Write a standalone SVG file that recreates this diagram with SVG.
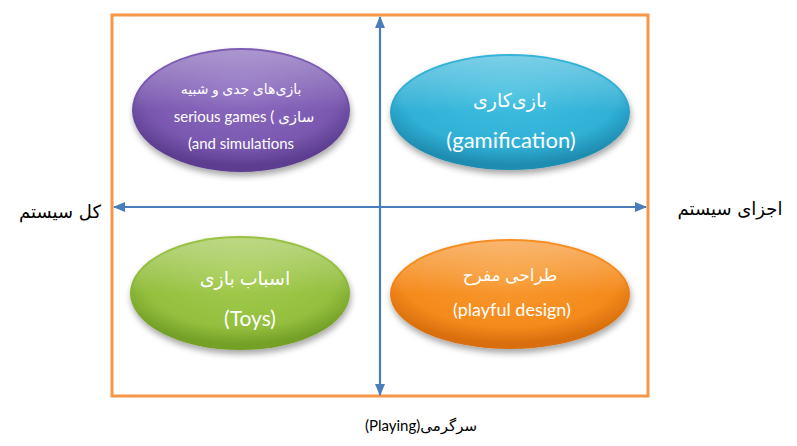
<svg xmlns="http://www.w3.org/2000/svg" width="797" height="446" viewBox="0 0 797 446">
<style>
.lbl{font-family:Lato,"DejaVu Sans",sans-serif;fill:#fff;text-anchor:middle;direction:ltr}
.side{font-family:"DejaVu Sans",Lato,sans-serif;fill:#000;text-anchor:middle;font-size:18px}
.cap{font-family:Lato,"DejaVu Sans",sans-serif;fill:#000;text-anchor:middle;font-size:15px;direction:ltr}
.axis{stroke:#4a7ebb;stroke-width:2.2;fill:none}
</style>
<defs>
<marker id="ah" viewBox="0 0 12 10" refX="11" refY="5" markerWidth="12" markerHeight="10" markerUnits="userSpaceOnUse" orient="auto-start-reverse">
<path d="M0,0 L12,5 L0,10 Z" fill="#4a7ebb"/>
</marker>
<filter id="sh" x="-20%" y="-20%" width="140%" height="150%">
<feDropShadow dx="1" dy="4" stdDeviation="3" flood-color="#000" flood-opacity="0.35"/>
</filter>
<radialGradient id="gP" cx="50%" cy="35%" r="60%">
<stop offset="0" stop-color="#8c6cc0"/><stop offset="0.75" stop-color="#7a58b0"/><stop offset="1" stop-color="#5c3e90"/>
</radialGradient>
<radialGradient id="gB" cx="50%" cy="35%" r="60%">
<stop offset="0" stop-color="#40bfe0"/><stop offset="0.75" stop-color="#30b0d6"/><stop offset="1" stop-color="#1f8db0"/>
</radialGradient>
<radialGradient id="gG" cx="50%" cy="35%" r="60%">
<stop offset="0" stop-color="#a4cc50"/><stop offset="0.75" stop-color="#94bf3e"/><stop offset="1" stop-color="#74a028"/>
</radialGradient>
<radialGradient id="gO" cx="50%" cy="35%" r="60%">
<stop offset="0" stop-color="#f89a30"/><stop offset="0.75" stop-color="#f58a1c"/><stop offset="1" stop-color="#d86e0c"/>
</radialGradient>
<linearGradient id="hl" x1="0" y1="0" x2="0" y2="1">
<stop offset="0" stop-color="#fff" stop-opacity="0.35"/><stop offset="0.5" stop-color="#fff" stop-opacity="0"/>
</linearGradient>
</defs>

<g id="frame">
<rect x="112" y="15" width="536" height="381" fill="none" stroke="#f79646" stroke-width="3"/>
</g>

<g id="n-serious">
<ellipse cx="241" cy="110" rx="109" ry="62" fill="url(#gP)" filter="url(#sh)"/>
<ellipse cx="241" cy="110" rx="107" ry="60" fill="url(#hl)"/>
<text class="lbl" x="241" y="94" font-size="14">بازی&#x200C;های جدی و شبیه</text>
<text class="lbl" x="244" y="122" font-size="15">serious games ( سازی</text>
<text class="lbl" x="241" y="149" font-size="15">(and simulations</text>
</g>

<g id="n-gamification">
<ellipse cx="510" cy="112" rx="120" ry="58" fill="url(#gB)" filter="url(#sh)"/>
<ellipse cx="510" cy="112" rx="118" ry="56" fill="url(#hl)"/>
<text class="lbl" x="510" y="107" font-size="19">بازی&#x200C;کاری</text>
<text class="lbl" x="511" y="148" font-size="22">(gamification)</text>
</g>

<g id="n-toys">
<ellipse cx="240" cy="293" rx="110" ry="57" fill="url(#gG)" filter="url(#sh)"/>
<ellipse cx="240" cy="293" rx="108" ry="55" fill="url(#hl)"/>
<text class="lbl" x="245" y="285" font-size="19">اسباب بازی</text>
<text class="lbl" x="250" y="326" font-size="21">(Toys)</text>
</g>

<g id="n-playful">
<ellipse cx="510" cy="294" rx="120" ry="55" fill="url(#gO)" filter="url(#sh)"/>
<ellipse cx="510" cy="294" rx="118" ry="53" fill="url(#hl)"/>
<text class="lbl" x="510" y="281" font-size="17">طراحی مفرح</text>
<text class="lbl" x="512" y="316" font-size="18">(playful design)</text>
</g>

<g id="connectors">
<line class="axis" x1="380" y1="395" x2="380" y2="17" marker-start="url(#ah)" marker-end="url(#ah)"/>
<line class="axis" x1="114" y1="207" x2="646" y2="207" marker-start="url(#ah)" marker-end="url(#ah)"/>
</g>

<g id="labels">
<text class="side" x="60" y="218">کل سیستم</text>
<text class="side" x="730" y="215">اجزای سیستم</text>
<text class="cap" x="421" y="431">(Playing)سرگرمی</text>
</g>
</svg>
